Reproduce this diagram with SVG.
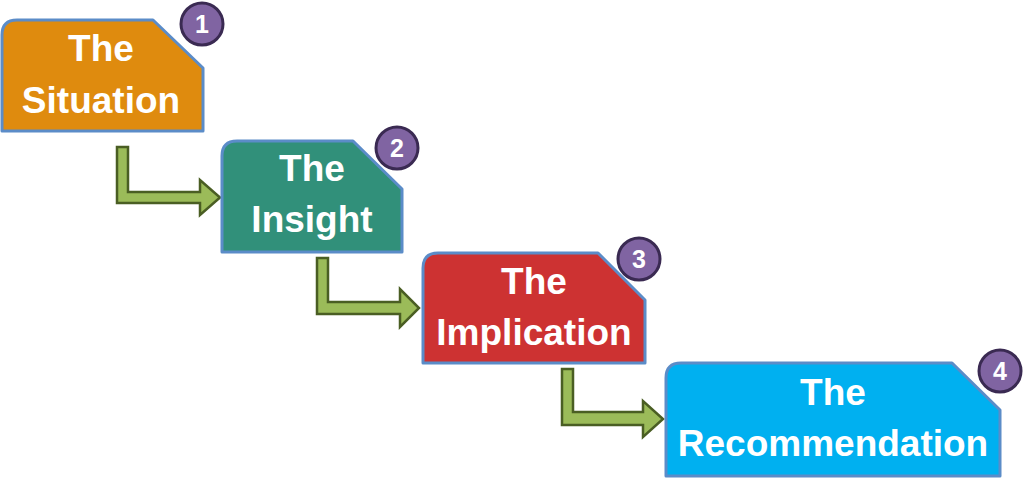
<svg xmlns="http://www.w3.org/2000/svg" width="1024" height="487" viewBox="0 0 1024 487">
<style>
.box{stroke:#5b8cc8;stroke-width:3;stroke-linejoin:round}
.lbl{font-family:"Liberation Sans",Arial,sans-serif;font-weight:bold;font-size:37px;fill:#ffffff;text-anchor:middle}
.badge{fill:#8064a2;stroke:#3a2a52;stroke-width:3}
.num{font-family:"Liberation Sans",Arial,sans-serif;font-weight:bold;font-size:25px;fill:#ffffff;text-anchor:middle}
.arr{fill:#9bbb59;stroke:#4a5e23;stroke-width:2.5;stroke-linejoin:miter}
</style>
<rect width="1024" height="487" fill="#ffffff"/>
<g id="connectors">
<path class="arr" d="M117,147 H128 V192 H200 V180 L220,197.5 L200,215 V203 H117 Z"/>
<path class="arr" d="M317,258 H328 V302 H400 V289 L419,308 L400,327 V314 H317 Z"/>
<path class="arr" d="M562,369 H573 V412 H643 V401 L663,419 L643,437 V425 H562 Z"/>
</g>
<g id="node1">
<path class="box" fill="#df8b0e" d="M17,20 H153 L203,68 V131 H2 V35 Q2,20 17,20 Z"/>
<text class="lbl" x="101" y="61">The</text>
<text class="lbl" x="101" y="113">Situation</text>
<circle class="badge" cx="202" cy="24" r="21"/>
<text class="num" x="202" y="33">1</text>
</g>
<g id="node2">
<path class="box" fill="#31907a" d="M237,141 H353 L402,189 V252 H222 V156 Q222,141 237,141 Z"/>
<text class="lbl" x="312" y="181">The</text>
<text class="lbl" x="312" y="232">Insight</text>
<circle class="badge" cx="397" cy="148" r="21"/>
<text class="num" x="397" y="157">2</text>
</g>
<g id="node3">
<path class="box" fill="#cd3232" d="M438,253 H598 L645,300 V363 H423 V268 Q423,253 438,253 Z"/>
<text class="lbl" x="534" y="294">The</text>
<text class="lbl" x="534" y="345">Implication</text>
<circle class="badge" cx="639" cy="259" r="21"/>
<text class="num" x="639" y="268">3</text>
</g>
<g id="node4">
<path class="box" fill="#00b0f0" d="M681,363 H952 L1000,410 V476 H666 V378 Q666,363 681,363 Z"/>
<text class="lbl" x="833" y="405">The</text>
<text class="lbl" x="833" y="456">Recommendation</text>
<circle class="badge" cx="1000" cy="371" r="21"/>
<text class="num" x="1000" y="380">4</text>
</g>
</svg>
